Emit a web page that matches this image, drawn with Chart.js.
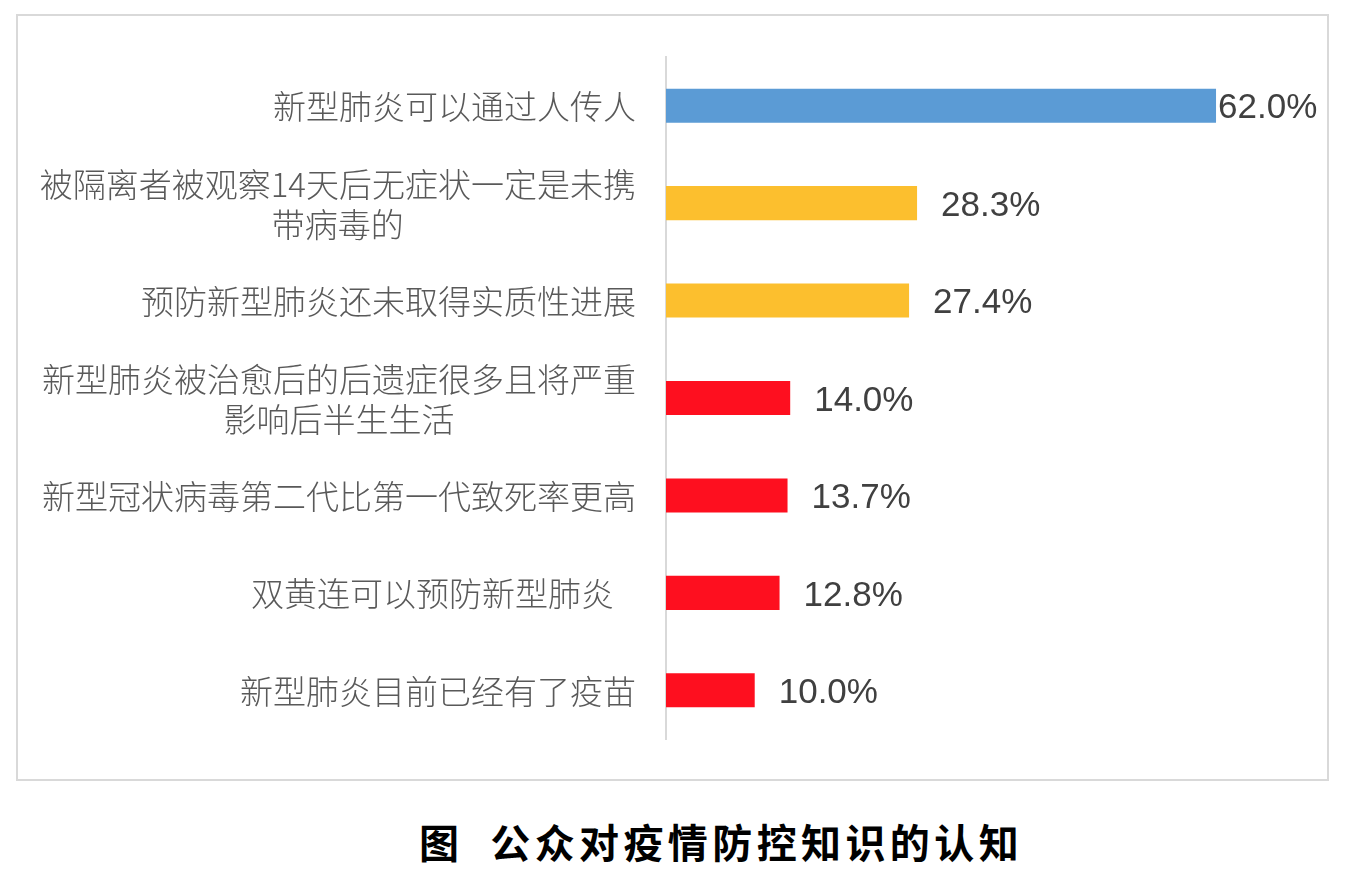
<!DOCTYPE html>
<html>
<head>
<meta charset="utf-8">
<script src="https://cdn.jsdelivr.net/npm/chart.js@4.4.1/dist/chart.umd.min.js"></script>
<style>
  body { margin: 0; background: #fff; width: 1346px; height: 870px; position: relative; overflow: hidden; }
  #box { position: absolute; left: 16px; top: 14px; width: 1313px; height: 767px; border: 2px solid #d9d9d9; box-sizing: border-box; }
  #wrap { position: relative; width: 1309px; height: 763px; }
  #title { position: absolute; left: 0; top: 812px; width: 1346px; padding-left: 96px; box-sizing: border-box;
           text-align: center; font: bold 40px "Noto Sans CJK SC"; letter-spacing: 4.4px; color: #000; }
</style>
</head>
<body>
<div id="box"><div id="wrap"><canvas id="bar-chart"></canvas></div></div>
<div id="title">图&nbsp;&nbsp;公众对疫情防控知识的认知</div>
<script>
// categories (multi-line ones split into lines)
var categories = [
  ['新型肺炎可以通过人传人'],
  ['被隔离者被观察14天后无症状一定是未携', '带病毒的'],
  ['预防新型肺炎还未取得实质性进展'],
  ['新型肺炎被治愈后的后遗症很多且将严重', '影响后半生生活'],
  ['新型冠状病毒第二代比第一代致死率更高'],
  ['双黄连可以预防新型肺炎   '],
  ['新型肺炎目前已经有了疫苗']
];
var values = [62.0, 28.3, 27.4, 14.0, 13.7, 12.8, 10.0];
var barColors = ['#5B9BD5', '#FCBF2E', '#FCBF2E', '#FE0F1F', '#FE0F1F', '#FE0F1F', '#FE0F1F'];

// category labels: block right-aligned, lines centred inside the block
var yLabels = {
  id: 'yLabels',
  afterDraw: function (chart) {
    var ctx = chart.ctx, y = chart.scales.y;
    ctx.save();
    ctx.font = '300 33px "Noto Sans CJK SC"';
    ctx.fillStyle = '#595959';
    ctx.textAlign = 'center';
    ctx.textBaseline = 'middle';
    var right = y.right - 30;
    categories.forEach(function (lines, i) {
      var w = Math.max.apply(null, lines.map(function (l) { return ctx.measureText(l).width; }));
      var cx = right - w / 2;
      var cy = y.getPixelForValue(i) + 1;
      lines.forEach(function (l, j) {
        ctx.fillText(l, cx, cy + (j - (lines.length - 1) / 2) * 40);
      });
    });
    ctx.restore();
  }
};

// value labels at the end of each bar
var valueLabels = {
  id: 'valueLabels',
  afterDatasetsDraw: function (chart) {
    var ctx = chart.ctx, meta = chart.getDatasetMeta(0);
    ctx.save();
    ctx.font = '35px "Liberation Sans", Arial, sans-serif';
    ctx.fillStyle = '#404040';
    ctx.textAlign = 'left';
    ctx.textBaseline = 'middle';
    meta.data.forEach(function (bar, i) {
      var gap = i === 0 ? 2 : 24;
      ctx.fillText(values[i].toFixed(1) + '%', bar.x + gap, bar.y + 3);
    });
    ctx.restore();
  }
};

var chrt = document.getElementById('bar-chart').getContext('2d');
var chartId = new Chart(chrt, {
  type: 'bar',
  data: {
    labels: categories,
    datasets: [{
      data: values,
      backgroundColor: barColors,
      barPercentage: 0.35,
      categoryPercentage: 1
    }]
  },
  options: {
    indexAxis: 'y',
    responsive: true,
    maintainAspectRatio: false,
    animation: false,
    layout: { padding: { top: 41, bottom: 40, left: 0, right: 40 } },
    plugins: { legend: { display: false }, tooltip: { enabled: false } },
    scales: {
      x: { display: false, min: 0, max: 70 },
      y: {
        ticks: { display: false },
        grid: { display: false },
        border: { display: true, color: '#d9d9d9', width: 2 },
        afterFit: function (scale) { scale.width = 648; }
      }
    }
  },
  plugins: [yLabels, valueLabels]
});
</script>
</body>
</html>
